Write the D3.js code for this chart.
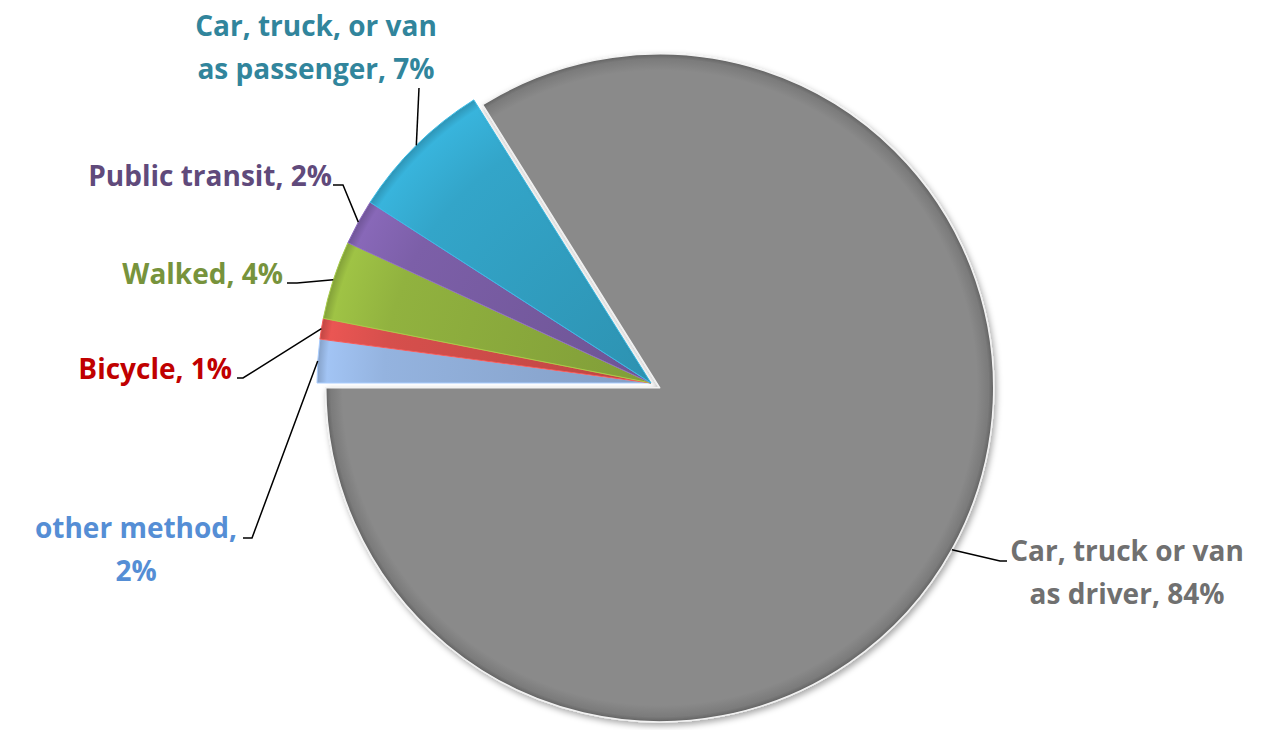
<!DOCTYPE html>
<html>
<head>
<meta charset="utf-8">
<script src="https://cdn.jsdelivr.net/npm/d3@7"></script>
<style>
  body { margin: 0; background: #fff; }
  text { font-family: "Open Sans", Lato, sans-serif; font-weight: bold; }
</style>
</head>
<body>
<script>
// commute modes, clockwise from 9 o'clock
var modes = ["other method", "Bicycle", "Walked", "Public transit", "Car, truck, or van as passenger", "Car, truck or van as driver"];
var shares = [2.1, 1.0, 3.8, 2.2, 7.0, 83.9];
// label text, "{p}" gets the rounded percent
var labelLines = [["other method,", "{p}"], ["Bicycle, {p}"], ["Walked, {p}"], ["Public transit, {p}"],
  ["Car, truck, or van", "as passenger, {p}"], ["Car, truck or van", "as driver, {p}"]];
var sliceColors = ["#94b3df", "#d64f4c", "#91b23f", "#7c5fa8", "#33a5c9", "#898989"];
var labelColors = ["#558ed5", "#c00000", "#77933c", "#604a7b", "#31859c", "#707070"];

var width = 1280,
  height = 730,
  cx = 651,
  cy = 383,
  radius = 334,
  explode = 10,
  lineH = 43

// where each label sits and where its leader line bends
var labelPos = [
  { x: 136, y: 538, anchor: "middle", elbow: [252, 538], end: [243, 538] },
  { x: 232, y: 379, anchor: "end", elbow: [243, 378], end: [237, 378] },
  { x: 283, y: 284, anchor: "end", elbow: [297, 283], end: [287, 283] },
  { x: 332, y: 186, anchor: "end", elbow: [343, 185], end: [333, 185] },
  { x: 316, y: 36, anchor: "middle", elbow: [419, 88], end: [419, 88] },
  { x: 1127, y: 561, anchor: "middle", elbow: [1000, 561], end: [1007, 561] }
];

var svg = d3.select("body").append("svg")
  .attr("width", width)
  .attr("height", height)

var defs = svg.append("defs");
var shadow = defs.append("filter").attr("id", "shadow")
  .attr("x", "-10%").attr("y", "-10%").attr("width", "120%").attr("height", "120%");
shadow.append("feDropShadow").attr("dx", 2).attr("dy", 3).attr("stdDeviation", 3)
  .attr("flood-color", "#000").attr("flood-opacity", 0.35);

sliceColors.forEach(function (c, i) {
  var grad = defs.append("radialGradient").attr("id", "grad" + i)
    .attr("gradientUnits", "userSpaceOnUse")
    .attr("cx", 0).attr("cy", 0).attr("r", radius);
  if (i == 5) {
    grad.append("stop").attr("offset", 0).attr("stop-color", "#8a8a8a");
    grad.append("stop").attr("offset", 0.95).attr("stop-color", "#8a8a8a");
    grad.append("stop").attr("offset", 0.985).attr("stop-color", "#7b7b7b");
    grad.append("stop").attr("offset", 1).attr("stop-color", "#626262");
  } else {
    grad.append("stop").attr("offset", 0).attr("stop-color", d3.color(c).darker(0.35));
    grad.append("stop").attr("offset", 0.8).attr("stop-color", c);
    grad.append("stop").attr("offset", 0.97).attr("stop-color", d3.color(c).brighter(0.25));
    grad.append("stop").attr("offset", 1).attr("stop-color", d3.color(c).darker(0.3));
  }
});

var pie = d3.pie()
  .sort(null)
  .value(function (d) { return d; })
  .startAngle(-Math.PI / 2)
  .endAngle(1.5 * Math.PI);

var arc = d3.arc().innerRadius(0).outerRadius(radius);
var arcs = pie(shares);

function offset(d, i) {
  if (i != 5) return [0, 0];
  var mid = (d.startAngle + d.endAngle) / 2;
  return [explode * Math.sin(mid), -explode * Math.cos(mid)];
}

var g = svg.append("g").attr("transform", "translate(" + cx + "," + cy + ")");

g.selectAll(".slice")
  .data(arcs)
  .enter().append("path")
  .attr("class", "slice")
  .attr("transform", function (d, i) { var o = offset(d, i); return "translate(" + o[0] + "," + o[1] + ")"; })
  .attr("d", arc)
  .attr("fill", function (d, i) { return "url(#grad" + i + ")"; })
  .attr("stroke", function (d, i) { return i == 5 ? "#f2f2f2" : d3.color(sliceColors[i]).brighter(0.4); })
  .attr("stroke-width", function (d, i) { return i == 5 ? 1.5 : 1; })
  .attr("stroke-linejoin", "round")
  .attr("filter", function (d, i) { return i == 5 ? "url(#shadow)" : null; });

// leader lines, from the rim at each slice's middle angle
svg.selectAll(".leader")
  .data(arcs)
  .enter().append("polyline")
  .attr("class", "leader")
  .attr("points", function (d, i) {
    var mid = (d.startAngle + d.endAngle) / 2, o = offset(d, i);
    var sx = cx + o[0] + radius * Math.sin(mid), sy = cy + o[1] - radius * Math.cos(mid);
    var p = labelPos[i];
    return [[sx, sy], p.elbow, p.end].map(function (q) { return q.join(","); }).join(" ");
  })
  .attr("fill", "none")
  .attr("stroke", "#000")
  .attr("stroke-width", 1.5);

var labels = svg.selectAll(".label")
  .data(arcs)
  .enter().append("text")
  .attr("class", "label")
  .attr("x", function (d, i) { return labelPos[i].x; })
  .attr("y", function (d, i) { return labelPos[i].y; })
  .attr("text-anchor", function (d, i) { return labelPos[i].anchor; })
  .attr("fill", function (d, i) { return labelColors[i]; })
  .style("font-size", "28px");

labels.each(function (d, i) {
  var pct = Math.round(d.data) + "%";
  d3.select(this).selectAll("tspan")
    .data(labelLines[i])
    .enter().append("tspan")
    .attr("x", labelPos[i].x)
    .attr("dy", function (t, k) { return k == 0 ? 0 : lineH; })
    .text(function (t) { return t.replace("{p}", pct); });
});
</script>
</body>
</html>
